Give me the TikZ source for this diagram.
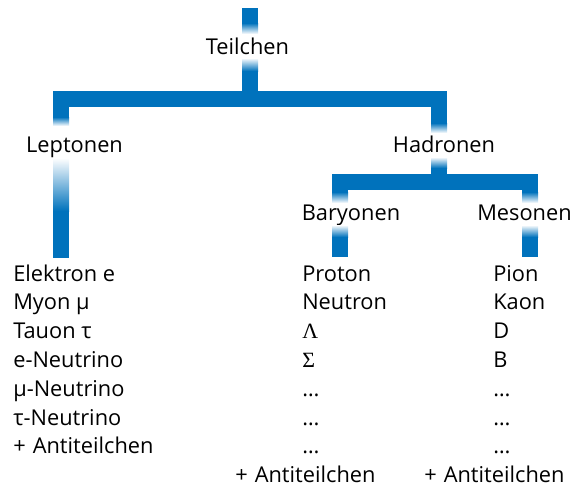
\documentclass[tikz,border=0pt]{standalone}
\usepackage{fontspec}
\setmainfont{Open Sans}
\newfontfamily\greekfont{Liberation Serif}
\definecolor{barblue}{RGB}{0,114,188}
\newcommand{\anti}{+\ \kern1pt Antiteilchen}

\begin{document}
\begin{tikzpicture}[
  x=0.025cm, y=-0.025cm,
  every node/.style={inner sep=0pt, font=\fontsize{15.5}{20}\selectfont},
  group/.style={anchor=base},
  item/.style={anchor=base west},
  bar/.style={draw=barblue, line width=0.4cm, line join=miter},
  fadeout/.style={top color=barblue, bottom color=white},
  fadein/.style={top color=white, bottom color=barblue}
]
\useasboundingbox (0,0) rectangle (581,488);

% group names
\node[group] (teil) at (247.5,54.5) {Teilchen};
\node[group] (lep) at (74.5,152.5) {Leptonen};
\node[group] (had) at (444,152.5) {Hadronen};
\node[group] (bary) at (351,220) {Baryonen};
\node[group] (meso) at (524.5,220) {Mesonen};

% junctions of the bars
\coordinate (root) at (250,8);
\coordinate (split1) at (250,98.5);
\coordinate (lepj) at (61,98.5);
\coordinate (hadj) at (439,98.5);
\coordinate (split2) at (439,181.5);
\coordinate (baryj) at (340,181.5);
\coordinate (mesoj) at (530,181.5);

% top level
\draw[bar] (root) -- (250,23);
\shade[fadeout] (242,23) rectangle (258,34);
\shade[fadein] (242,58) rectangle (258,71);
\draw[bar] (250,71) -- (split1);
\draw[bar] (61,117) -- (lepj) -- (hadj) -- (439,123);

% leptons
\shade[fadeout] (53,117) rectangle (69,126);
\shade[fadein] (53,158) rectangle (69,211);
\draw[bar] (61,211) -- (61,258);

% hadrons
\shade[fadeout] (431,123) rectangle (447,133);
\shade[fadein] (431,157) rectangle (447,168);
\draw[bar] (439,168) -- (split2);
\draw[bar] (340,192) -- (baryj) -- (mesoj) -- (530,192);
\shade[fadeout] (332,192) rectangle (348,203);
\shade[fadeout] (522,192) rectangle (538,203);
\shade[fadein] (332,225) rectangle (348,237);
\shade[fadein] (522,225) rectangle (538,237);
\draw[bar] (340,237) -- (340,257);
\draw[bar] (530,237) -- (530,257);

% particle lists
\foreach \name [count=\i] in {Elektron e, Myon μ, Tauon τ, e-Neutrino,
    μ-Neutrino, τ-Neutrino, \anti}
  \node[item] (lep\i) at (13,{281+28.8*(\i-1)}) {\name};
\foreach \name [count=\i] in {Proton, Neutron, {\greekfont Λ}, {\greekfont Σ},
    \dots, \dots, \dots}
  \node[item] (bary\i) at (302,{281+28.8*(\i-1)}) {\name};
\foreach \name [count=\i] in {Pion, Kaon, D, B, \dots, \dots, \dots}
  \node[item] (meso\i) at (493,{281+28.8*(\i-1)}) {\name};
\node[item] (baryanti) at (235,482.6) {\anti};
\node[item] (mesoanti) at (424,482.6) {\anti};
\end{tikzpicture}
\end{document}
